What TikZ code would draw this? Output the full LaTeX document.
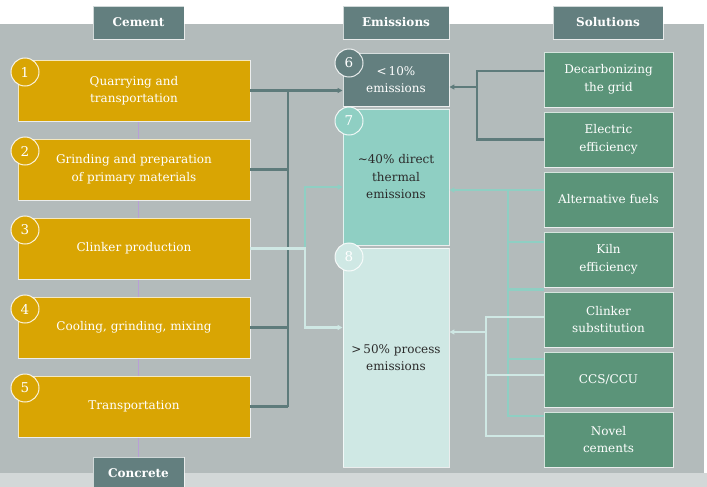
\documentclass[tikz,border=0pt]{standalone}
\usepackage{fontspec}
\setmainfont{DejaVu Serif}
\usetikzlibrary{arrows.meta,calc}
\definecolor{panel}{HTML}{B3BBBB}
\definecolor{strip}{HTML}{D3D8D8}
\definecolor{tabc}{HTML}{637F7F}
\definecolor{gold}{HTML}{D9A503}
\definecolor{esix}{HTML}{637F7F}
\definecolor{eseven}{HTML}{8FCFC3}
\definecolor{eeight}{HTML}{CFE8E4}
\definecolor{solgreen}{HTML}{5B9479}
\definecolor{darkline}{HTML}{5E7B7B}
\definecolor{lilac}{HTML}{B99FD6}
\definecolor{textdark}{HTML}{2B2B2B}
\pgfdeclarelayer{bg}
\pgfdeclarelayer{under}
\pgfsetlayers{bg,under,main}
\begin{document}
\begin{tikzpicture}[x=1pt,y=-1pt,
  basebox/.style={draw=white, draw opacity=0.75, line width=0.9pt, align=center, inner sep=0pt,
    font=\fontsize{12}{17.5}\selectfont},
  cbox/.style={basebox, fill=gold, text=white, minimum width=232pt, minimum height=61pt},
  ebox/.style={basebox, minimum width=106pt},
  sbox/.style={basebox, fill=solgreen, text=white, minimum width=129pt, minimum height=55pt},
  tab/.style={fill=tabc, draw=white, draw opacity=0.7, line width=0.9pt, text=white,
    minimum height=33pt, inner sep=0pt, font=\bfseries\fontsize{12}{14}\selectfont},
  num/.style={circle, draw=white, draw opacity=0.85, line width=1pt, minimum size=28pt, inner sep=0pt,
    text=white, font=\fontsize{13.5}{13.5}\selectfont},
  arr/.style={-{Triangle[length=5pt,width=5pt]}},
  dk/.style={draw=darkline, line width=2.2pt},
  tl/.style={draw=eseven, line width=2.2pt},
  pl/.style={draw=eeight, line width=2.2pt}]
\useasboundingbox (0,0) rectangle (707,487);
\begin{pgfonlayer}{bg}
\fill[white] (0,0) rectangle (707,487);
\fill[panel] (0,24) rectangle (704,473);
\fill[strip] (0,473) rectangle (707,487);
\end{pgfonlayer}

% tabs
\node[tab, minimum width=91pt] (tcem) at (138.5,22.5) {Cement};
\node[tab, minimum width=106pt] (temi) at (396,22.5) {Emissions};
\node[tab, minimum width=110pt] (tsol) at (608,22.5) {Solutions};
\node[tab, minimum width=91pt] (tcon) at (138.5,473.5) {Concrete};

% cement boxes
\node[cbox] (c1) at (134,90.5) {Quarrying and\\transportation};
\node[cbox] (c2) at (134,169.5) {Grinding and preparation\\of primary materials};
\node[cbox] (c3) at (134,248.5) {Clinker production};
\node[cbox] (c4) at (134,327.5) {Cooling, grinding, mixing};
\node[cbox] (c5) at (134,406.5) {Transportation};
\node[num, fill=gold] (n1) at (25,72) {1};
\node[num, fill=gold] (n2) at (25,151) {2};
\node[num, fill=gold] (n3) at (25,230) {3};
\node[num, fill=gold] (n4) at (25,309) {4};
\node[num, fill=gold] (n5) at (25,388) {5};

\begin{pgfonlayer}{under}
\draw[lilac, line width=1.6pt] (c1.south -| tcon.north) -- (tcon.north);
\end{pgfonlayer}

% emission boxes
\node[ebox, fill=esix, text=white, minimum height=53pt] (e6) at (396,79.5) {<\,10\%\\emissions};
\node[ebox, fill=eseven, text=textdark, minimum height=136pt] (e7) at (396,177) {∼40\% direct\\thermal\\emissions};
\node[ebox, fill=eeight, text=textdark, minimum height=219pt] (e8) at (396,357.5) {>\,50\% process\\emissions};
\node[num, fill=esix] (n6) at (349,63) {6};
\node[num, fill=eseven] (n7) at (349,121) {7};
\node[num, fill=eeight] (n8) at (349,257) {8};

% solution boxes
\node[sbox] (s1) at (608.5,79.5) {Decarbonizing\\the grid};
\node[sbox] (s2) at (608.5,139.5) {Electric\\efficiency};
\node[sbox] (s3) at (608.5,199.5) {Alternative fuels};
\node[sbox] (s4) at (608.5,259.5) {Kiln\\efficiency};
\node[sbox] (s5) at (608.5,319.5) {Clinker\\substitution};
\node[sbox] (s6) at (608.5,379.5) {CCS/CCU};
\node[sbox] (s7) at (608.5,439.5) {Novel\\cements};

% cement -> emissions (dark bus)
\coordinate (bus) at (288,0);
\draw[dk] (c1.east) -- (c1.east -| bus);
\draw[dk] (c2.east) -- (c2.east -| bus);
\draw[dk] (c4.east) -- (c4.east -| bus);
\draw[dk] (c5.east) -- (c5.east -| bus);
\draw[dk] (c1.east -| bus) -- (c5.east -| bus);
\draw[dk, arr] (c1.east -| bus) -- (e6.west |- c1.east);

% clinker -> thermal / process
\coordinate (cx) at (305,0);
\coordinate (t7) at (0,187);
\draw[tl, arr] (c3.east -| cx) |- (e7.west |- t7);
\draw[pl, arr] (c3.east) -| (cx |- c4.east) -- (e8.west |- c4.east);

% solutions -> <10%
\coordinate (sx) at (477,0);
\coordinate (d1) at ($(s1.west)+(0,-8.5)$);
\coordinate (e6a) at ($(e6.east)+(0,7.5)$);
\draw[dk] (d1) -| (sx |- s2.west) -- (s2.west);
\draw[dk, arr] (sx |- e6a) -- (e6a);

% solutions -> thermal (teal)
\coordinate (tx) at (508,0);
\coordinate (a3) at ($(s3.west)+(0,-9.5)$);
\coordinate (a4) at ($(s4.west)+(0,-17.5)$);
\coordinate (a45) at ($(s4.south west)!0.5!(s5.north west)$);
\coordinate (a6) at ($(s6.west)+(0,-20.5)$);
\coordinate (a7) at ($(s7.west)+(0,-23.5)$);
\draw[tl, arr] (a3) -- (e7.east |- a3);
\draw[tl] (tx |- a3) -- (tx |- a7) -- (a7);
\draw[tl] (tx |- a4) -- (a4);
\draw[tl] (tx |- a45) -- (a45);
\draw[tl] (tx |- a6) -- (a6);

% solutions -> process (pale)
\coordinate (px) at (486,0);
\coordinate (p5) at ($(s5.west)+(0,-2.5)$);
\coordinate (p6) at ($(s6.west)+(0,-4.5)$);
\coordinate (p7) at ($(s7.west)+(0,-3.5)$);
\coordinate (e8a) at ($(e8.east)+(0,-25.5)$);
\draw[pl] (p5) -| (px |- p7) -- (p7);
\draw[pl] (px |- p6) -- (p6);
\draw[pl, arr] (px |- e8a) -- (e8a);
\end{tikzpicture}
\end{document}
